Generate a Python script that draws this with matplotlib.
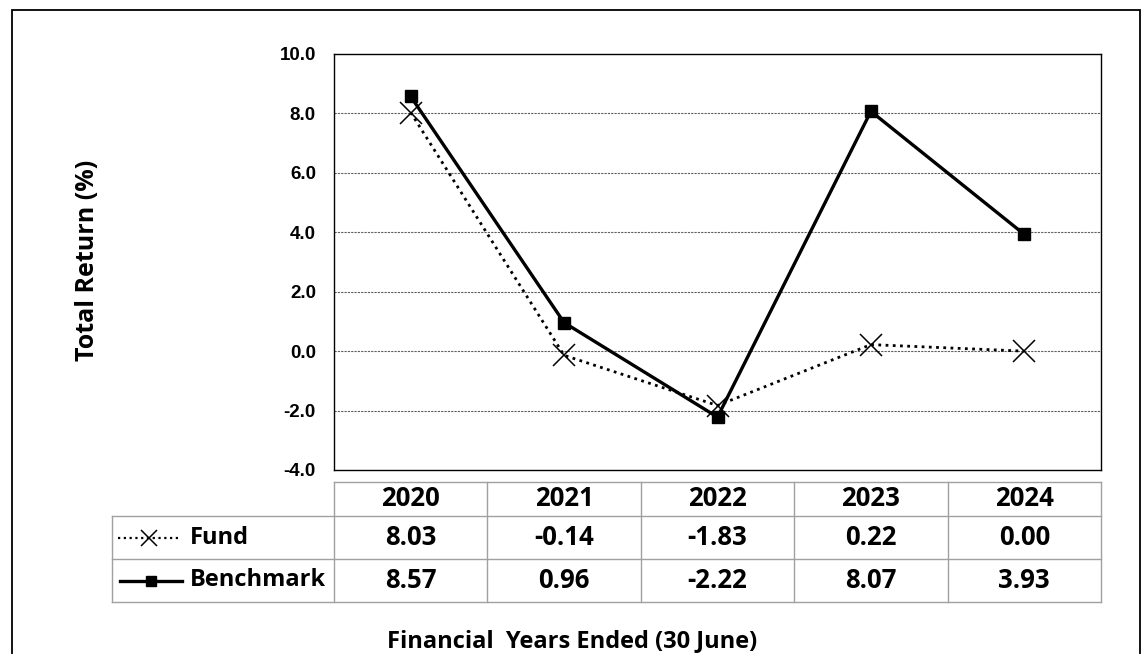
import matplotlib
matplotlib.use("Agg")
import matplotlib.pyplot as plt
from matplotlib.patches import Rectangle
from matplotlib.lines import Line2D

years = ["2020", "2021", "2022", "2023", "2024"]
fund = [8.03, -0.14, -1.83, 0.22, 0.00]
benchmark = [8.57, 0.96, -2.22, 8.07, 3.93]
series_names = ["Fund", "Benchmark"]
y_ticks = [-4.0, -2.0, 0.0, 2.0, 4.0, 6.0, 8.0, 10.0]

W, H = 1146, 654
fig = plt.figure(figsize=(W / 100, H / 100), dpi=100)

def px_rect(x0, y0, x1, y1):
    return [x0 / W, 1 - y1 / H, (x1 - x0) / W, (y1 - y0) / H]

TXT_FONT = ["Open Sans", "DejaVu Sans"]
TICK_FONT = ["Liberation Sans", "DejaVu Sans"]

# Outer border
fig.patches.append(Rectangle((12 / W, -0.05), (1140 - 12) / W, 1 - 10 / H + 0.05,
                             transform=fig.transFigure, fill=False, edgecolor="black",
                             linewidth=1.3))

# Main plot
ax = fig.add_axes(px_rect(334, 54, 1101, 470))
x = list(range(len(years)))
ax.plot(x, fund, color="black", linestyle=(0, (1, 1.6)), linewidth=2.0,
        marker="x", markersize=16, markeredgewidth=1.1, zorder=3)
ax.plot(x, benchmark, color="black", linestyle="-", linewidth=2.4,
        marker="s", markersize=8, zorder=4)
ax.set_xlim(-0.5, len(years) - 0.5)
ax.set_ylim(-4, 10)
ax.set_yticks(y_ticks)
ax.set_yticklabels([f"{v:.1f}" for v in y_ticks], fontfamily=TICK_FONT,
                   fontweight="bold", fontsize=13.5)
ax.tick_params(axis="y", length=0, pad=13)
ax.set_xticks([])
for v in y_ticks[1:-1]:
    ax.axhline(v, color="#5e5e5e", linestyle=(0, (2, 1)), linewidth=0.8, zorder=1)
for s in ax.spines.values():
    s.set_color("black")
    s.set_linewidth(1.0)

# Y label
fig.text(88 / W, 1 - 260 / H, "Total Return (%)", rotation=90, ha="center", va="center",
         fontfamily=TXT_FONT, fontweight="bold", fontsize=18)

# Table axes, sharing category units with the plot; y in pixel-like units
label_w = (334 - 112) / ((1101 - 334) / len(years))
tax = fig.add_axes(px_rect(112, 482, 1101, 602))
tax.set_xlim(-0.5 - label_w, len(years) - 0.5)
tax.set_ylim(0, 120)
tax.axis("off")
row_b = [0, 43, 86, 120]
yc_bench, yc_fund, yc_head = 21.5, 64.5, 103
grid_c = "#a0a0a0"
lw = 1.0
tax.plot([-0.5, len(years) - 0.5], [row_b[3]] * 2, color=grid_c, lw=lw, clip_on=False)
for yy in row_b[:3]:
    tax.plot([-0.5 - label_w, len(years) - 0.5], [yy, yy], color=grid_c, lw=lw, clip_on=False)
tax.plot([-0.5 - label_w] * 2, [row_b[0], row_b[2]], color=grid_c, lw=lw, clip_on=False)
for i in range(len(years) + 1):
    tax.plot([i - 0.5] * 2, [row_b[0], row_b[3]], color=grid_c, lw=lw, clip_on=False)

TFS = 18.5
LFS = 17
for i, yr in enumerate(years):
    tax.text(i, yc_head, yr, ha="center", va="center", fontfamily=TXT_FONT,
             fontweight="bold", fontsize=TFS)
    tax.text(i, yc_fund, f"{fund[i]:.2f}", ha="center", va="center", fontfamily=TXT_FONT,
             fontweight="bold", fontsize=TFS)
    tax.text(i, yc_bench, f"{benchmark[i]:.2f}", ha="center", va="center",
             fontfamily=TXT_FONT, fontweight="bold", fontsize=TFS)

# legend keys in the row-label cells
x0 = -0.5 - label_w
u = (1101 - 334) / len(years)
def px_to_t(px):
    return x0 + (px - 112) / u
tax.add_line(Line2D([px_to_t(118), px_to_t(180)], [yc_fund] * 2, color="black",
                    linestyle=(0, (1, 1.6)), linewidth=1.6))
tax.add_line(Line2D([px_to_t(149)], [yc_fund], color="black", marker="x",
                    markersize=11, markeredgewidth=1.1, linestyle="none"))
tax.add_line(Line2D([px_to_t(120), px_to_t(182)], [yc_bench] * 2, color="black",
                    linewidth=2.4))
tax.add_line(Line2D([px_to_t(151)], [yc_bench], color="black", marker="s",
                    markersize=7.5, linestyle="none"))
tax.text(px_to_t(190), yc_fund, series_names[0], ha="left", va="center",
         fontfamily=TXT_FONT, fontweight="bold", fontsize=LFS)
tax.text(px_to_t(190), yc_bench, series_names[1], ha="left", va="center",
         fontfamily=TXT_FONT, fontweight="bold", fontsize=LFS)

# X label
fig.text(572 / W, 1 - 641 / H, "Financial  Years Ended (30 June)", ha="center",
         va="center", fontfamily=TXT_FONT, fontweight="bold", fontsize=17)

fig.savefig("out.png", dpi=100)
